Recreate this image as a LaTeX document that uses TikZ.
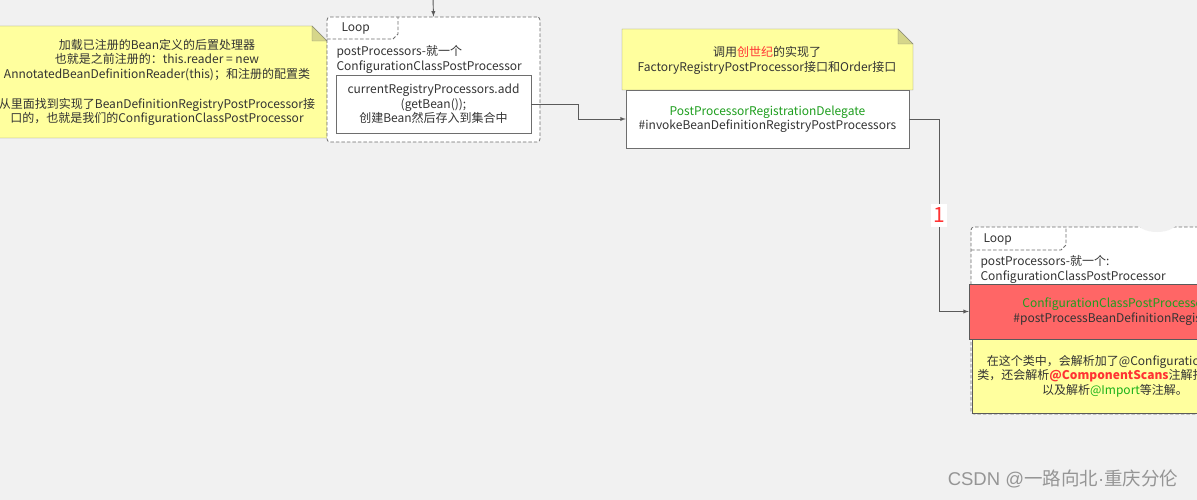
\documentclass[tikz,border=0pt]{standalone}
\usepackage{fontspec}
\setmainfont{Noto Sans CJK SC}
\newfontfamily\latinsans{Liberation Sans}
\usetikzlibrary{arrows}

\definecolor{bgcol}{HTML}{F1F1F1}
\definecolor{notefill}{HTML}{FFFF9E}
\definecolor{foldfill}{HTML}{D6D68A}
\definecolor{noteline}{HTML}{8C8C78}
\definecolor{framecol}{HTML}{6E6E6E}
\definecolor{txtcol}{HTML}{333333}
\definecolor{greentxt}{HTML}{1E9E1E}
\definecolor{redtxt}{HTML}{FF3333}
\definecolor{redfill}{HTML}{FF6666}
\definecolor{linecol}{HTML}{5A5A5A}
\definecolor{marktxt}{HTML}{959595}

\tikzset{
  every node/.style={font=\fontsize{12}{14.5}\selectfont, text=txtcol},
  loopframe/.style={draw=framecol, dash pattern=on 3.5pt off 2pt, line width=0.8pt, rounded corners=3pt, fill=white, inner sep=0pt},
  looptab/.style={draw=framecol, dash pattern=on 3.5pt off 2pt, line width=0.8pt},
  boxw/.style={draw=framecol, fill=white, inner sep=0pt, align=center},
  conn/.style={draw=linecol, line width=0.9pt},
}

\begin{document}
\begin{tikzpicture}[>=latex,x=1pt,y=-1pt]
\useasboundingbox (0,0) rectangle (1197,500);
\clip (0,0) rectangle (1197,500);
\fill[bgcol] (0,0) rectangle (1197,500);

% left note
\pgfmathsetmacro{\fold}{15}
\draw[noteline, fill=notefill] (-13,26) -- (327-\fold,26) -- (327,26+\fold) -- (327,138) -- (-13,138) -- cycle;
\draw[noteline, fill=foldfill] (327-\fold,26) -- (327-\fold,26+\fold) -- (327,26+\fold) -- cycle;
\node[align=center] (note1) at (157,82.5) {加载已注册的Bean定义的后置处理器\\也就是之前注册的：this.reader = new\\AnnotatedBeanDefinitionReader(this)；和注册的配置类\\[15.5pt]从里面找到实现了BeanDefinitionRegistryPostProcessor接\\口的，也就是我们的ConfigurationClassPostProcessor};

% first loop
\node[loopframe, minimum width=213pt, minimum height=125pt] (loop1) at (433.5,79.5) {};
\draw[looptab] (327,39) -- (393,39) -- (398,34) -- (398,17);
\node[anchor=west] (loop1tag) at (338,28) {Loop};
\node[anchor=west, align=left] (loop1txt) at (333,59.5) {postProcessors-就一个\\ConfigurationClassPostProcessor};
\node[boxw, minimum width=195pt, minimum height=58pt] (inbox) at (433.5,104) {currentRegistryProcessors.add\\(getBean());\\创建Bean然后存入到集合中};

\coordinate (topin) at (433,-2);
\draw[conn,->] (topin) -- (loop1.north);

% second note + delegate
\draw[noteline, fill=notefill] (622,29) -- (913-\fold,29) -- (913,29+\fold) -- (913,90) -- (622,90) -- cycle;
\draw[noteline, fill=foldfill] (913-\fold,29) -- (913-\fold,29+\fold) -- (913,29+\fold) -- cycle;
\node[align=center] (note2) at (767,60.5) {调用\textcolor{redtxt}{创世纪}的实现了\\FactoryRegistryPostProcessor接口和Order接口};
\node[boxw, minimum width=283pt, minimum height=58pt] (box2) at (767.5,119) {\textcolor{greentxt}{PostProcessorRegistrationDelegate}\\\#invokeBeanDefinitionRegistryPostProcessors};

\draw[conn,->] (inbox.east) -- ++(47,0) |- (box2.west);

% second loop
\node[loopframe, minimum width=291pt, minimum height=187pt] (loop2) at (1116.5,320.5) {};
\fill[bgcol] (1157,222) ellipse (20 and 10);
\draw[looptab] (971,250) -- (1061,250) -- (1066,245) -- (1066,227);
\node[anchor=west] (loop2tag) at (980,239) {Loop};
\node[anchor=west, align=left] (loop2txt) at (977,269.5) {postProcessors-就一个:\\ConfigurationClassPostProcessor};
\node[boxw, draw=linecol, fill=redfill, minimum width=292pt, minimum height=55pt] (redbox) at (1115,311.5) {\textcolor{greentxt}{ConfigurationClassPostProcessor}\\\#postProcessBeanDefinitionRegistry};
\node[boxw, draw=linecol, fill=notefill, minimum width=286pt, minimum height=74pt] (scanbox) at (1115,376) {在这个类中，会解析加了@Configuration注解的\\类，还会解析\textcolor{redtxt}{\bfseries @ComponentScans}注解扫描的包，\\以及解析\textcolor{greentxt!80!green}{@Import}等注解。};

\draw[conn,->] (box2.east) -- ++(30,0) |- node[pos=0.25, fill=white, text=redtxt, font=\fontsize{21}{22}\selectfont, inner xsep=2pt, inner ysep=4pt] (lbl1) {1} (redbox.west);

% watermark
\node[text=marktxt, font=\fontsize{18.5}{20}\selectfont] (mark) at (1063,479) {{\latinsans CSDN @}一路向北{\latinsans ·}重庆分伦};
\end{tikzpicture}
\end{document}
